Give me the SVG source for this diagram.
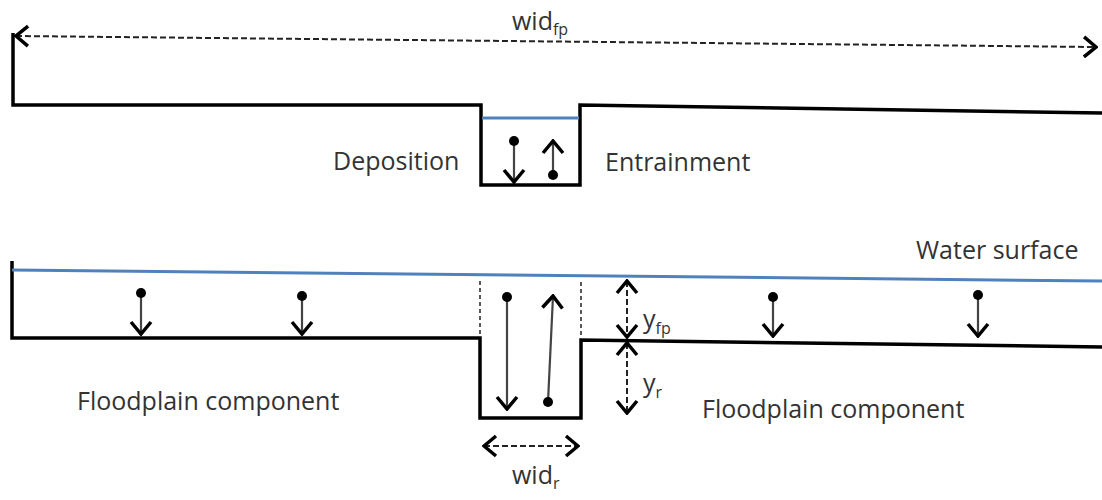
<svg xmlns="http://www.w3.org/2000/svg" width="1102" height="500" viewBox="0 0 1102 500">
<style>
.prof{fill:none;stroke:#000;stroke-width:3.5;stroke-linejoin:miter}
.water{fill:none;stroke:#4f81bd;stroke-width:3}
.dim{fill:none;stroke:#222;stroke-width:2;stroke-dasharray:6 3;marker-start:url(#chev);marker-end:url(#chev)}
.guide{fill:none;stroke:#222;stroke-width:1.5;stroke-dasharray:4 3}
.flux{fill:none;stroke:#444;stroke-width:2.2;marker-end:url(#chev)}
.dot{fill:#000}
text{font-family:"Open Sans","Liberation Sans",sans-serif;font-size:25px;fill:#333}
.sub{font-size:16px}
</style>
<defs>
<marker id="chev" viewBox="0 0 16 24" refX="14" refY="12" markerWidth="16" markerHeight="24" markerUnits="userSpaceOnUse" orient="auto-start-reverse">
<path d="M2,2 L14,12 L2,22" fill="none" stroke="#000" stroke-width="3.5"/>
</marker>
</defs>
<g id="top-section">
<path class="prof" d="M13,33 L13,105 L481,105 L481,185 L580,185 L580,105 L1102,113"/>
<path class="water" d="M482,118 L579,118"/>
</g>
<g id="bottom-section">
<path class="prof" d="M12,261 L12,338 L480,338 L480,418 L581,418 L581,340 L1102,347"/>
<path class="water" d="M12,270 L1102,281"/>
<path class="guide" d="M480,281 L480,336 M581,282 L581,338"/>
</g>
<g id="connectors">
<path class="dim" d="M16,36 L1096,47"/>
<path class="dim" d="M627,281 L627,337"/>
<path class="dim" d="M627,343 L627,413"/>
<path class="dim" d="M484,446 L578,446"/>
<path class="flux" d="M514,141 L514,182"/>
<path class="flux" d="M553,175 L553,141"/>
<path class="flux" d="M507,297 L507,409"/>
<path class="flux" d="M548,402 L553,296"/>
<path class="flux" d="M141,293 L141,334"/>
<path class="flux" d="M302,296 L302,334"/>
<path class="flux" d="M773,297 L773,336"/>
<path class="flux" d="M978,295 L978,336"/>
<circle class="dot" cx="514" cy="141" r="5"/>
<circle class="dot" cx="553" cy="175" r="5"/>
<circle class="dot" cx="507" cy="297" r="5"/>
<circle class="dot" cx="548" cy="402" r="5"/>
<circle class="dot" cx="141" cy="293" r="5"/>
<circle class="dot" cx="302" cy="296" r="5"/>
<circle class="dot" cx="773" cy="297" r="5"/>
<circle class="dot" cx="978" cy="295" r="5"/>
</g>
<g id="labels">
<text x="512" y="30">wid<tspan class="sub" dy="5">fp</tspan></text>
<text x="333" y="170">Deposition</text>
<text x="605" y="171">Entrainment</text>
<text x="916" y="259">Water surface</text>
<text x="643" y="328">y<tspan class="sub" dy="6">fp</tspan></text>
<text x="643" y="392">y<tspan class="sub" dy="6">r</tspan></text>
<text x="77" y="410">Floodplain component</text>
<text x="702" y="418">Floodplain component</text>
<text x="512" y="484">wid<tspan class="sub" dy="5">r</tspan></text>
</g>
</svg>
